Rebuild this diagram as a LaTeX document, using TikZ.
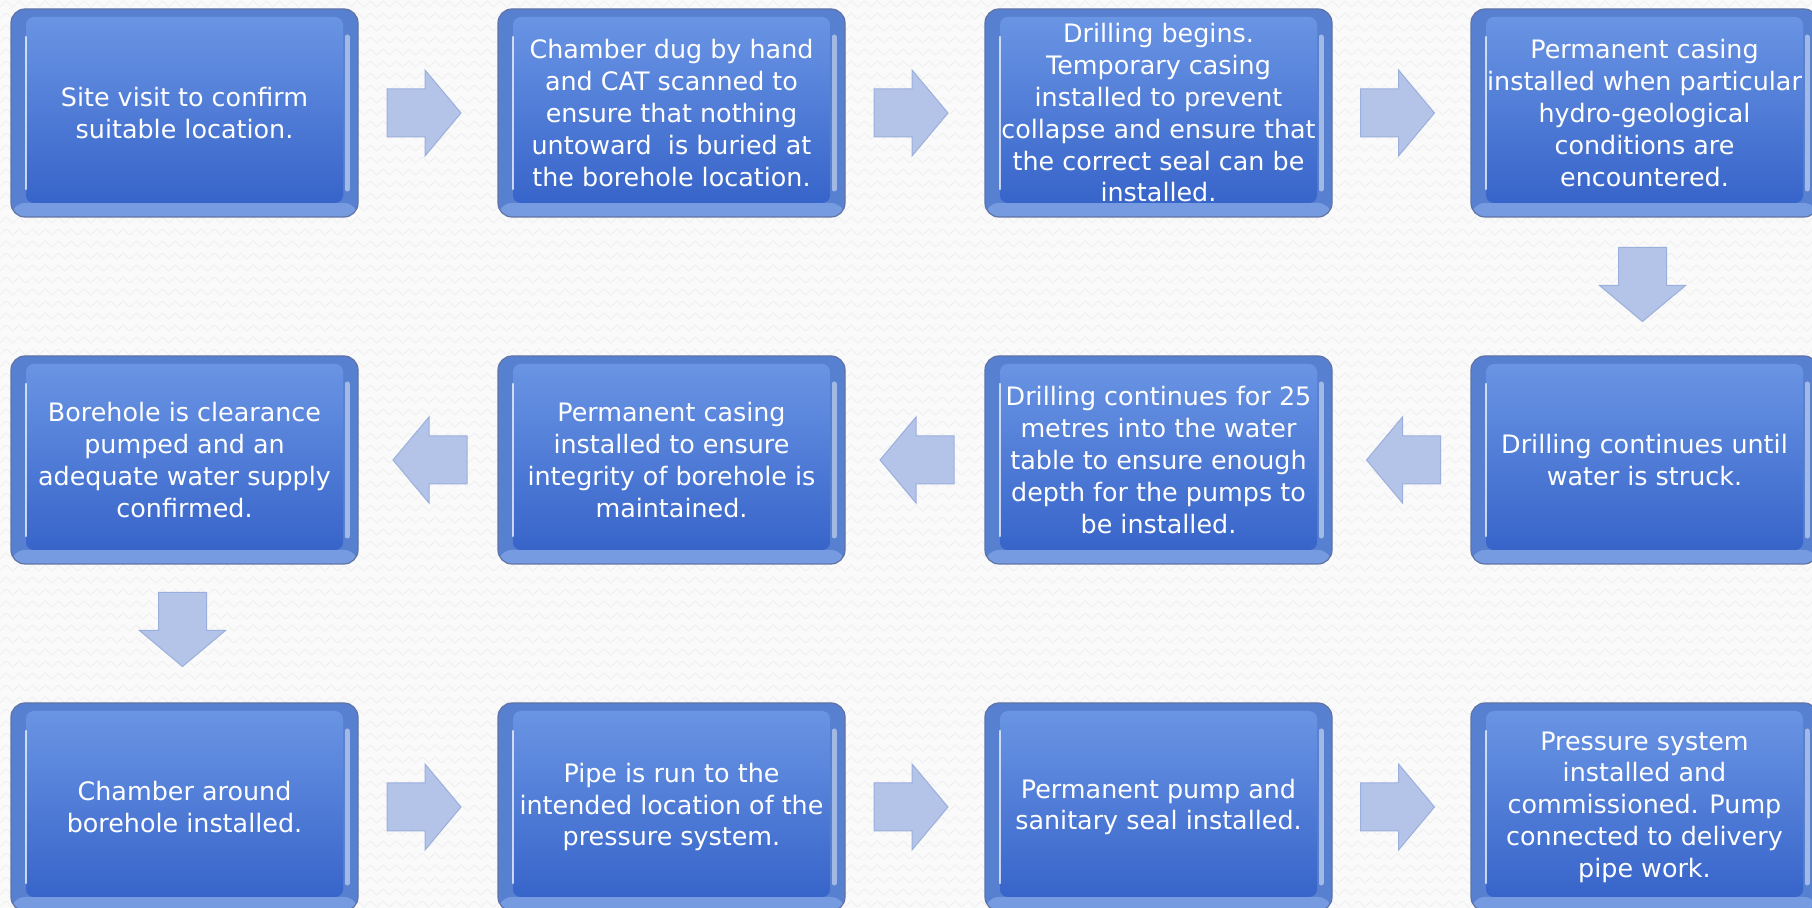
\documentclass[tikz,border=0pt]{standalone}
\usepackage{fontspec}
\setmainfont{DejaVu Sans}
\usetikzlibrary{calc,decorations.pathmorphing}
\definecolor{bgc}{RGB}{250,250,250}
\definecolor{zz}{RGB}{241,241,241}
\definecolor{rimc}{RGB}{88,128,208}
\definecolor{rimbot}{RGB}{118,155,224}
\definecolor{edgec}{RGB}{95,115,165}
\definecolor{facetop}{RGB}{98,143,226}
\definecolor{facemid}{RGB}{58,108,206}
\definecolor{facebot}{RGB}{26,74,188}
\definecolor{sidelt}{RGB}{125,163,234}
\definecolor{centdk}{RGB}{26,70,182}
\definecolor{arrfill}{RGB}{180,196,233}
\definecolor{arredge}{RGB}{155,175,220}
\tikzset{
  stepbox/.style={
    minimum width=173.5pt, minimum height=104pt, inner sep=0pt, align=center,
    rounded corners=7pt, draw=edgec, line width=0.6pt, fill=rimc,
    text=white, font=\fontsize{12.7}{15.9}\selectfont,
    path picture={
      \path (path picture bounding box.south west) coordinate (sw)
            (path picture bounding box.north east) coordinate (ne);
      \fill[rimbot] (sw) rectangle ($(ne|-sw)+(0,7pt)$);
      \shade[top color=facetop, middle color=facemid, bottom color=facebot, rounded corners=4pt]
        ($(sw)+(7.5pt,7pt)$) rectangle ($(ne)+(-7.5pt,-4pt)$);
      \shade[left color=sidelt, middle color=centdk, right color=sidelt, fill opacity=.3, rounded corners=4pt]
        ($(sw)+(7.5pt,7pt)$) rectangle ($(ne)+(-7.5pt,-4pt)$);
      \draw[white, opacity=.7, line width=1.2pt, line cap=round]
        ($(sw)+(7.5pt,14pt)$) -- ($(sw|-ne)+(7.5pt,-14pt)$);
      \draw[white, opacity=.45, line width=2.5pt, line cap=round]
        ($(ne|-sw)+(-5.5pt,14pt)$) -- ($(ne)+(-5.5pt,-14pt)$);
    }
  },
  arrstyle/.style={fill=arrfill, draw=arredge, line width=0.5pt, line join=miter},
  barrow/.pic={
    \filldraw[arrstyle] (-18.5pt,-12pt) -- (0.5pt,-12pt) -- (0.5pt,-21.5pt) -- (18.5pt,0pt)
      -- (0.5pt,21.5pt) -- (0.5pt,12pt) -- (-18.5pt,12pt) -- cycle;
  },
  zzline/.style={zz, line width=0.5pt, decorate,
    decoration={zigzag, segment length=6.5pt, amplitude=1.5pt}}
}
\begin{document}
\begin{tikzpicture}[x=0.5pt, y=-0.5pt]
\useasboundingbox (0,0) rectangle (1812,908);
\clip (0,0) rectangle (1812,908);
\fill[bgc] (0,0) rectangle (1812,908);
\foreach \r in {0,...,76} { \draw[zzline] (-10,\r*12+4) -- (1830,\r*12+4); }

% row 1
\node[stepbox] (b1) at (184.5,113) {Site visit to confirm\\suitable location.};
\node[stepbox] (b2) at (671.5,113) {Chamber dug by hand\\and CAT scanned to\\ensure that nothing\\untoward~ is buried at\\the borehole location.};
\node[stepbox] (b3) at (1158.5,113) {Drilling begins.\\Temporary casing\\installed to prevent\\collapse and ensure that\\the correct seal can be\\installed.};
\node[stepbox] (b4) at (1644.5,113) {Permanent casing\\installed when particular\\hydro-geological\\conditions are\\encountered.};
% row 2
\node[stepbox] (b5) at (1644.5,460) {Drilling continues until\\water is struck.};
\node[stepbox] (b6) at (1158.5,460) {Drilling continues for 25\\metres into the water\\table to ensure enough\\depth for the pumps to\\be installed.};
\node[stepbox] (b7) at (671.5,460) {Permanent casing\\installed to ensure\\integrity of borehole is\\maintained.};
\node[stepbox] (b8) at (184.5,460) {Borehole is clearance\\pumped and an\\adequate water supply\\confirmed.};
% row 3
\node[stepbox] (b9) at (184.5,807) {Chamber around\\borehole installed.};
\node[stepbox] (b10) at (671.5,807) {Pipe is run to the\\intended location of the\\pressure system.};
\node[stepbox] (b11) at (1158.5,807) {Permanent pump and\\sanitary seal installed.};
\node[stepbox] (b12) at (1644.5,807) {Pressure system\\installed and\\commissioned. Pump\\connected to delivery\\pipe work.};

% connectors
\coordinate (m12) at ($(b1.east)!0.5!(b2.west)$);
\coordinate (m23) at ($(b2.east)!0.5!(b3.west)$);
\coordinate (m34) at ($(b3.east)!0.5!(b4.west)$);
\coordinate (m45) at ($(b4.south)!0.5!(b5.north)$);
\coordinate (m56) at ($(b5.west)!0.5!(b6.east)$);
\coordinate (m67) at ($(b6.west)!0.5!(b7.east)$);
\coordinate (m78) at ($(b7.west)!0.5!(b8.east)$);
\coordinate (m89) at ($(b8.south)!0.5!(b9.north)$);
\coordinate (m910) at ($(b9.east)!0.5!(b10.west)$);
\coordinate (m1011) at ($(b10.east)!0.5!(b11.west)$);
\coordinate (m1112) at ($(b11.east)!0.5!(b12.west)$);

\pic at ($(m12)+(-2pt,0)$) {barrow};
\pic at ($(m23)+(-2pt,0)$) {barrow};
\pic at ($(m34)+(-2pt,0)$) {barrow};
\pic[rotate=-90] at ($(m45)+(-1pt,1pt)$) {barrow};
\pic[rotate=180] at ($(m56)+(1pt,0)$) {barrow};
\pic[rotate=180] at ($(m67)+(1pt,0)$) {barrow};
\pic[rotate=180] at ($(m78)+(1pt,0)$) {barrow};
\pic[rotate=-90] at ($(m89)+(-1pt,2pt)$) {barrow};
\pic at ($(m910)+(-2pt,0)$) {barrow};
\pic at ($(m1011)+(-2pt,0)$) {barrow};
\pic at ($(m1112)+(-2pt,0)$) {barrow};
\end{tikzpicture}
\end{document}
